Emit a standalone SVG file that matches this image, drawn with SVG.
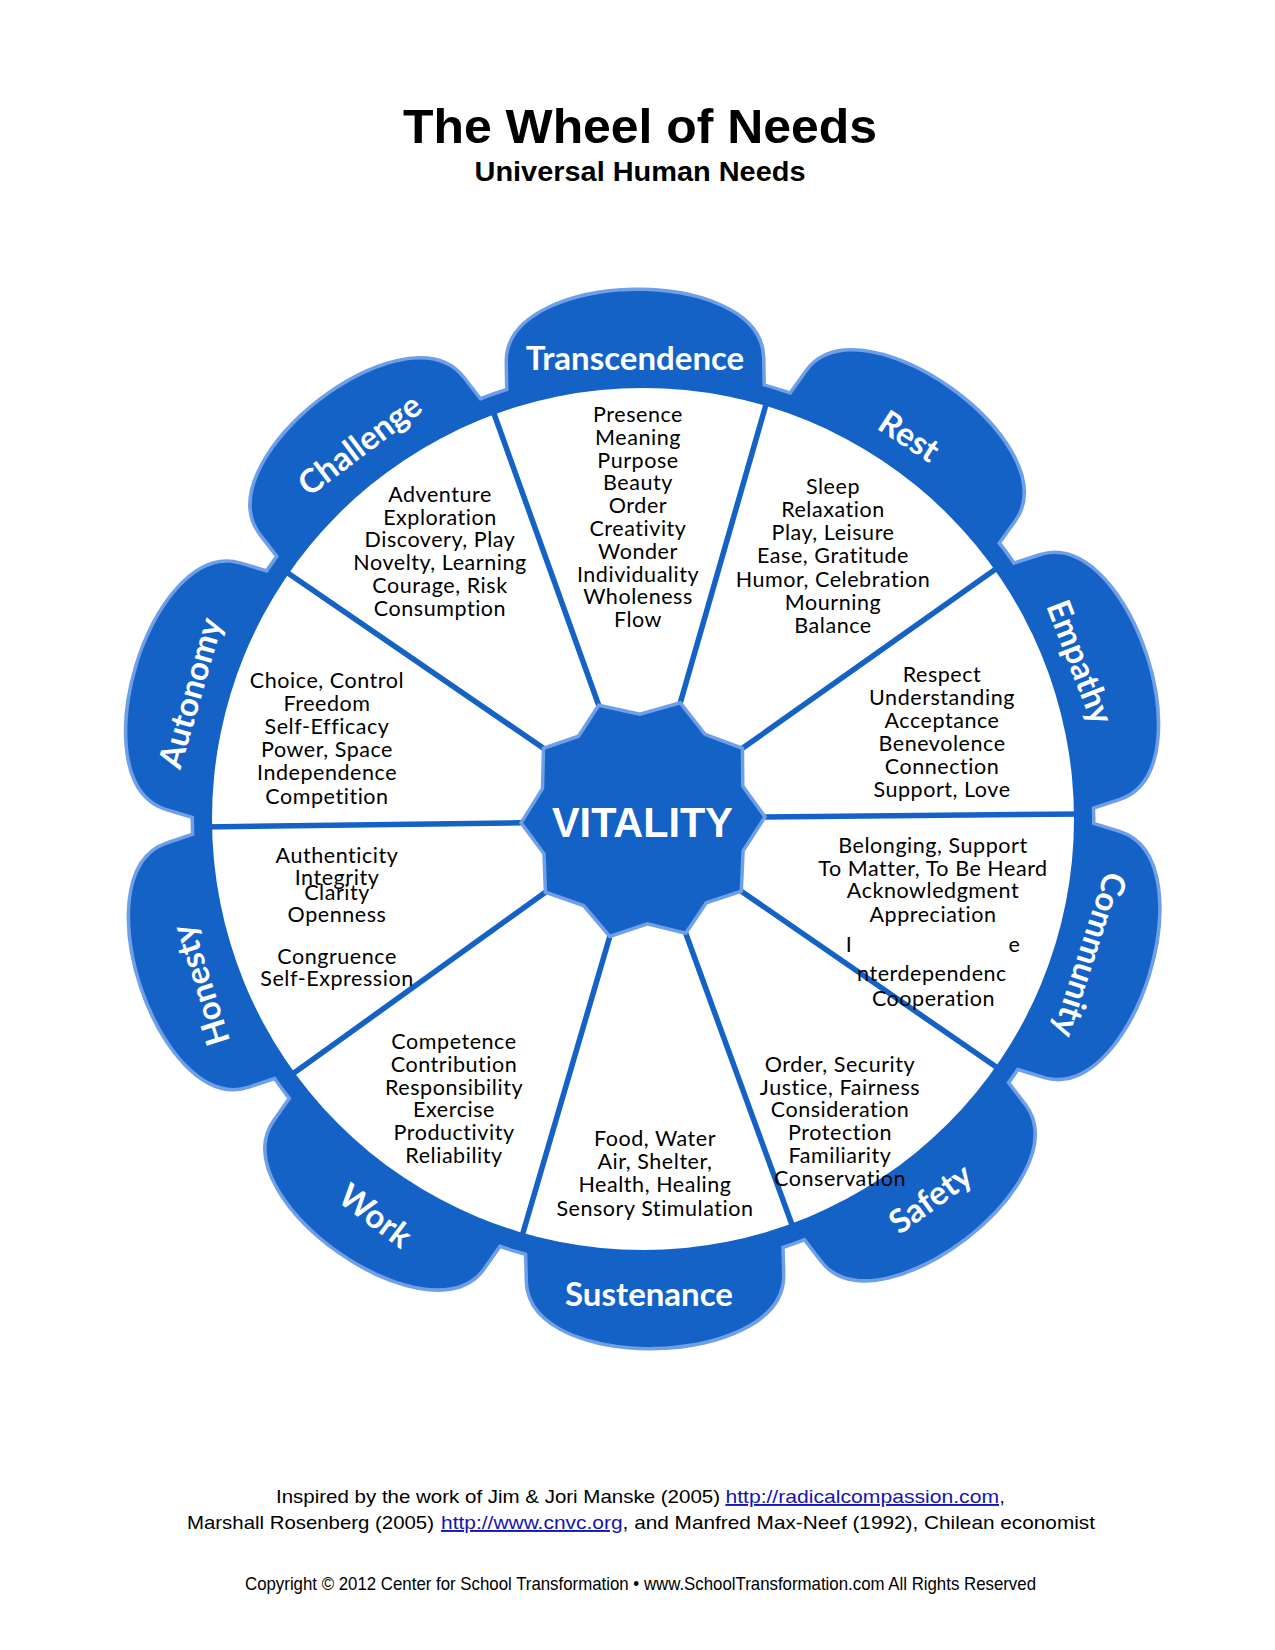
<svg xmlns="http://www.w3.org/2000/svg" width="1275" height="1650" viewBox="0 0 1275 1650">
<style>
.t{font-family:Lato,"Open Sans","Liberation Sans",sans-serif;font-size:21.5px;letter-spacing:0.55px;fill:#000;text-anchor:middle}
.lab{font-family:Lato,"Open Sans","Liberation Sans",sans-serif;font-weight:bold;font-size:33px;fill:#fff;text-anchor:middle}
.ft{font-family:"Liberation Sans",Arial,sans-serif;font-size:19px;fill:#000}
.lnk{fill:#1414B4;text-decoration:underline}
.ttl{font-family:"Liberation Sans",Arial,sans-serif;font-weight:bold;fill:#000;text-anchor:middle}
.pf{fill:#1562C6}
</style>
<defs>
<path id="petal" d="M516,420 L516,360 C516,312 585,291 643,291 C701,291 770,312 770,360 L770,420 Z"/>
</defs>
<rect width="1275" height="1650" fill="#fff"/>
<g id="title">
<text class="ttl" x="640" y="143" font-size="49" textLength="474" lengthAdjust="spacingAndGlyphs">The Wheel of Needs</text>
<text class="ttl" x="640" y="181" font-size="28" textLength="331" lengthAdjust="spacingAndGlyphs">Universal Human Needs</text>
</g>
<g id="wheel-shape">
<g fill="#1562C6" stroke="#6E9FE8" stroke-width="7">
<circle cx="643" cy="819" r="449"/>
<use href="#petal" transform="rotate(-1 643 819)"/>
<use href="#petal" transform="rotate(35.65 643 819)"/>
<use href="#petal" transform="rotate(72 643 819)"/>
<use href="#petal" transform="rotate(107.15 643 819)"/>
<use href="#petal" transform="rotate(142.4 643 819)"/>
<use href="#petal" transform="rotate(178.5 643 819)"/>
<use href="#petal" transform="rotate(215.1 643 819)"/>
<use href="#petal" transform="rotate(251.45 643 819)"/>
<use href="#petal" transform="rotate(286.8 643 819)"/>
<use href="#petal" transform="rotate(322.25 643 819)"/>
</g>
<g class="pf">
<circle cx="643" cy="819" r="449"/>
<use href="#petal" transform="rotate(-1 643 819)"/>
<use href="#petal" transform="rotate(35.65 643 819)"/>
<use href="#petal" transform="rotate(72 643 819)"/>
<use href="#petal" transform="rotate(107.15 643 819)"/>
<use href="#petal" transform="rotate(142.4 643 819)"/>
<use href="#petal" transform="rotate(178.5 643 819)"/>
<use href="#petal" transform="rotate(215.1 643 819)"/>
<use href="#petal" transform="rotate(251.45 643 819)"/>
<use href="#petal" transform="rotate(286.8 643 819)"/>
<use href="#petal" transform="rotate(322.25 643 819)"/>
</g>
<circle cx="643" cy="819" r="431" fill="#fff"/>
</g>
<g id="connectors" stroke="#1562C6" stroke-width="5.5" stroke-linecap="butt">
<line x1="492" y1="408" x2="598.7" y2="705.3"/>
<line x1="767" y1="401" x2="680.3" y2="702.8"/>
<line x1="1000" y1="566" x2="742.4" y2="748.3"/>
<line x1="1084" y1="814" x2="765" y2="816.9"/>
<line x1="1005" y1="1073" x2="741.3" y2="891.2"/>
<line x1="795" y1="1233" x2="685.7" y2="933.3"/>
<line x1="520" y1="1243" x2="609.8" y2="936.4"/>
<line x1="287" y1="1078" x2="545.4" y2="892.2"/>
<line x1="203" y1="827" x2="521.1" y2="822.8"/>
<line x1="282" y1="569" x2="543.5" y2="748.3"/>
</g>
<g id="vitality">
<polygon points="598.7,705.3 639.8,714.1 680.3,702.8 705,734.3 742.4,748.3 742.8,786.2 765,816.9 743.1,850.8 741.3,891.2 706.3,902.8 685.7,933.3 647.3,923.9 609.8,936.4 583.6,905.6 545.4,892.2 544,853.8 521.1,822.8 542.5,788.6 543.5,748.3 578.5,736.2" fill="#1562C6" stroke="#6E9FE8" stroke-width="3.5"/>
<text x="642.5" y="837" font-family="'Liberation Sans',Arial,sans-serif" font-weight="bold" font-size="43" fill="#fff" text-anchor="middle" textLength="181" lengthAdjust="spacingAndGlyphs">VITALITY</text>
</g>
<g id="transcendence">
<text class="lab" transform="translate(635,359)" y="11">Transcendence</text>
<text class="t" x="638" y="422">Presence</text>
<text class="t" x="638" y="444.8">Meaning</text>
<text class="t" x="638" y="467.6">Purpose</text>
<text class="t" x="638" y="490.4">Beauty</text>
<text class="t" x="638" y="513.2">Order</text>
<text class="t" x="638" y="536">Creativity</text>
<text class="t" x="638" y="558.8">Wonder</text>
<text class="t" x="638" y="581.6">Individuality</text>
<text class="t" x="638" y="604.4">Wholeness</text>
<text class="t" x="638" y="627.2">Flow</text>
</g>
<g id="rest">
<text class="lab" transform="translate(908.8,436.7) rotate(33)" y="11">Rest</text>
<text class="t" x="833" y="493.5">Sleep</text>
<text class="t" x="833" y="516.8">Relaxation</text>
<text class="t" x="833" y="540">Play, Leisure</text>
<text class="t" x="833" y="563.3">Ease, Gratitude</text>
<text class="t" x="833" y="586.5">Humor, Celebration</text>
<text class="t" x="833" y="609.8">Mourning</text>
<text class="t" x="833" y="633">Balance</text>
</g>
<g id="empathy">
<text class="lab" transform="translate(1079.5,662.2) rotate(69)" y="11">Empathy</text>
<text class="t" x="942" y="682">Respect</text>
<text class="t" x="942" y="705">Understanding</text>
<text class="t" x="942" y="728">Acceptance</text>
<text class="t" x="942" y="751">Benevolence</text>
<text class="t" x="942" y="774">Connection</text>
<text class="t" x="942" y="796.5">Support, Love</text>
</g>
<g id="community">
<text class="lab" transform="translate(1089.6,954.6) rotate(108)" y="11">Community</text>
<text class="t" x="933" y="853.3">Belonging, Support</text>
<text class="t" x="933" y="875.5">To Matter, To Be Heard</text>
<text class="t" x="933" y="898.3">Acknowledgment</text>
<text class="t" x="933" y="921.7">Appreciation</text>
<text class="t" x="849" y="951.5">I</text>
<text class="t" x="1014.5" y="951.5">e</text>
<text class="t" x="932" y="980.5">nterdependenc</text>
<text class="t" x="933.5" y="1006.3">Cooperation</text>
</g>
<g id="safety">
<text class="lab" transform="translate(930.7,1199) rotate(-36)" y="11">Safety</text>
<text class="t" x="840" y="1072">Order, Security</text>
<text class="t" x="840" y="1094.7">Justice, Fairness</text>
<text class="t" x="840" y="1117.4">Consideration</text>
<text class="t" x="840" y="1140.1">Protection</text>
<text class="t" x="840" y="1162.8">Familiarity</text>
<text class="t" x="840" y="1185.5">Conservation</text>
</g>
<g id="sustenance">
<text class="lab" transform="translate(649,1295)" y="11">Sustenance</text>
<text class="t" x="655" y="1146">Food, Water</text>
<text class="t" x="655" y="1169">Air, Shelter,</text>
<text class="t" x="655" y="1192">Health, Healing</text>
<text class="t" x="655" y="1216">Sensory Stimulation</text>
</g>
<g id="work">
<text class="lab" transform="translate(375.2,1216.3) rotate(37)" y="11">Work</text>
<text class="t" x="454" y="1049.3">Competence</text>
<text class="t" x="454" y="1072">Contribution</text>
<text class="t" x="454" y="1094.7">Responsibility</text>
<text class="t" x="454" y="1117.4">Exercise</text>
<text class="t" x="454" y="1140.1">Productivity</text>
<text class="t" x="454" y="1162.8">Reliability</text>
</g>
<g id="honesty">
<text class="lab" transform="translate(201,985) rotate(-107.6)" y="11">Honesty</text>
<text class="t" x="337" y="863.4">Authenticity</text>
<text class="t" x="337" y="885">Integrity</text>
<text class="t" x="337" y="900.2">Clarity</text>
<text class="t" x="337" y="922">Openness</text>
<text class="t" x="337" y="964.3">Congruence</text>
<text class="t" x="337" y="986.3">Self-Expression</text>
</g>
<g id="autonomy">
<text class="lab" transform="translate(191,693) rotate(-74)" y="11">Autonomy</text>
<text class="t" x="327" y="688">Choice, Control</text>
<text class="t" x="327" y="711.1">Freedom</text>
<text class="t" x="327" y="734.2">Self-Efficacy</text>
<text class="t" x="327" y="757.3">Power, Space</text>
<text class="t" x="327" y="780.4">Independence</text>
<text class="t" x="327" y="803.5">Competition</text>
</g>
<g id="challenge">
<text class="lab" transform="translate(360,445) rotate(-37)" y="11">Challenge</text>
<text class="t" x="440" y="502">Adventure</text>
<text class="t" x="440" y="524.7">Exploration</text>
<text class="t" x="440" y="547.4">Discovery, Play</text>
<text class="t" x="440" y="570.1">Novelty, Learning</text>
<text class="t" x="440" y="592.8">Courage, Risk</text>
<text class="t" x="440" y="615.5">Consumption</text>
</g>
<g id="footer">
<text class="ft" x="276" y="1503" textLength="444" lengthAdjust="spacingAndGlyphs">Inspired by the work of Jim &amp; Jori Manske (2005)</text>
<text class="ft lnk" x="725.4" y="1503" textLength="273.6" lengthAdjust="spacingAndGlyphs">http://radicalcompassion.com</text>
<text class="ft" x="999.5" y="1503">,</text>
<text class="ft" x="187" y="1529" textLength="247" lengthAdjust="spacingAndGlyphs">Marshall Rosenberg (2005)</text>
<text class="ft lnk" x="441" y="1529" textLength="181.6" lengthAdjust="spacingAndGlyphs">http://www.cnvc.org</text>
<text class="ft" x="622.6" y="1529" textLength="472.4" lengthAdjust="spacingAndGlyphs">, and Manfred Max-Neef (1992), Chilean economist</text>
<text class="ft" x="245" y="1590" font-size="16" fill="#444" textLength="791" lengthAdjust="spacingAndGlyphs">Copyright © 2012 Center for School Transformation • www.SchoolTransformation.com All Rights Reserved</text>
</g>
</svg>
